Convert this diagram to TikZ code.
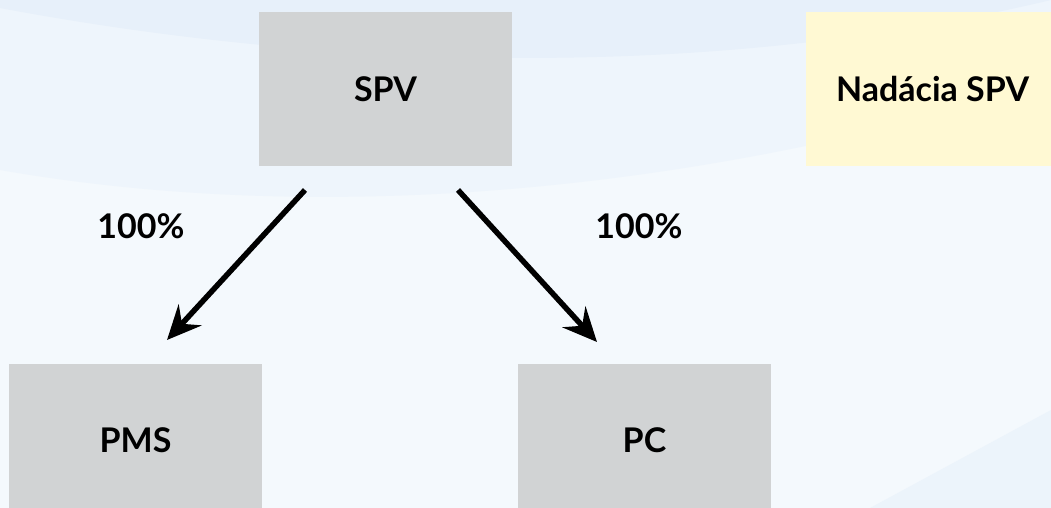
\documentclass[tikz,border=0pt]{standalone}
\usepackage{fontspec}
\setmainfont{Lato}
\usetikzlibrary{arrows.meta}

\definecolor{boxgray}{HTML}{D1D3D4}
\definecolor{boxyellow}{HTML}{FFF9D3}
\definecolor{bgtop}{HTML}{E7F0FA}
\definecolor{bgmid}{HTML}{EEF5FC}
\definecolor{bglow}{HTML}{F4F9FD}

\tikzset{
	box/.style={fill=boxgray, minimum width=253pt, minimum height=153pt, inner sep=0pt, font=\fontsize{34}{40}\selectfont\bfseries},
	pct/.style={font=\fontsize{34}{40}\selectfont\bfseries},
	link/.style={line width=5.5pt, -{Stealth[length=34pt, width=31pt, inset=12pt]}}
}

\begin{document}
\begin{tikzpicture}[x=1pt, y=-1pt]
	% background
	\useasboundingbox (0,0) rectangle (1051,508);
	\fill[bglow] (0,0) rectangle (1051,508);
	\fill[bgmid] (0,0) -- (0,170) .. controls (200,205) and (480,215) .. (820,143) .. controls (920,122) and (1000,105) .. (1051,98) -- (1051,0) -- cycle;
	\fill[bgtop] (0,0) -- (0,8) .. controls (250,55) and (650,95) .. (1051,0) -- cycle;
	\fill[bgtop!60!bglow] (870,508) -- (1051,410) -- (1051,508) -- cycle;

	% boxes
	\node[box] (spv) at (385.5,89) {SPV};
	\node[box, fill=boxyellow] (nadacia) at (932.5,89) {Nadácia SPV};
	\node[box] (pms) at (135.5,440) {PMS};
	\node[box] (pc) at (644.5,440) {PC};

	% arrows
	\coordinate (l1) at (305,190);
	\coordinate (l2) at (167,340);
	\coordinate (r1) at (458,190);
	\coordinate (r2) at (597,342);
	\draw[link] (l1) -- (l2);
	\draw[link] (r1) -- (r2);

	\node[pct] (pl) at (141,226) {100\%};
	\node[pct] (pr) at (639,226) {100\%};
\end{tikzpicture}
\end{document}
